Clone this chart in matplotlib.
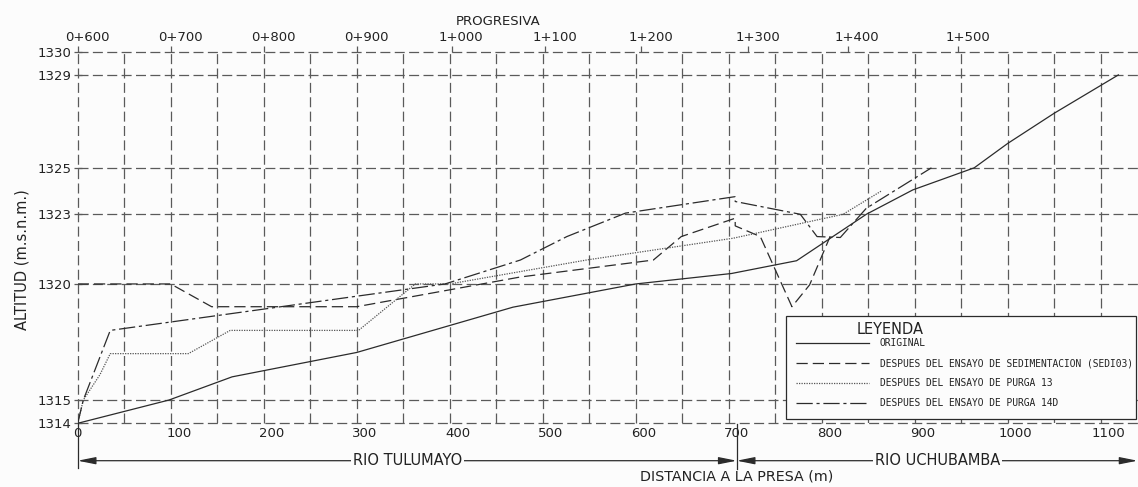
import numpy as np
import matplotlib
matplotlib.use("Agg")
import matplotlib.pyplot as plt
from matplotlib.transforms import ScaledTranslation, blended_transform_factory
from matplotlib.patches import Rectangle
from matplotlib.lines import Line2D

# ---------------- data ----------------
dist_ticks = [0, 100, 200, 300, 400, 500, 600, 700, 800, 900, 1000, 1100]
alt_ticks = [1314, 1315, 1320, 1323, 1325, 1329, 1330]
prog_labels = ["0+600", "0+700", "0+800", "0+900", "1+000", "1+100",
               "1+200", "1+300", "1+400", "1+500"]
prog_pos = [0, 100, 200, 300, 402, 503, 606, 721, 828, 947]

orig_d = [0, 98, 166, 300, 468, 600, 703, 773, 848, 898, 964, 1000, 1050, 1119]
orig_z = [1314.0, 1315.0, 1316.0, 1317.05, 1319.0, 1320.0, 1320.45, 1321.0,
          1323.0, 1324.05, 1325.0, 1326.05, 1327.35, 1329.0]

sed_d = [0, 100, 144, 300, 476, 619, 649, 707, 707, 734, 768, 787, 809]
sed_z = [1320.0, 1320.0, 1319.02, 1319.02, 1320.3, 1321.03, 1322.04, 1322.83,
         1322.5, 1322.04, 1319.02, 1319.96, 1322.04]

p13_d = [0, 6, 24, 35, 119, 164, 302, 363, 400, 547, 705, 823, 864]
p13_z = [1314.0, 1315.0, 1316.1, 1317.0, 1317.0, 1318.0, 1318.0, 1320.0,
         1320.0, 1321.03, 1321.97, 1323.0, 1324.0]

p14_d = [0, 6, 35, 395, 476, 526, 589, 707, 707, 777, 795, 820, 848, 918]
p14_z = [1314.0, 1315.0, 1318.0, 1320.0, 1321.03, 1322.04, 1323.05, 1323.76,
         1323.55, 1323.0, 1322.04, 1322.0, 1323.26, 1325.0]

legend_labels = ["ORIGINAL",
                 "DESPUES DEL ENSAYO DE SEDIMENTACION (SEDI03)",
                 "DESPUES DEL ENSAYO DE PURGA 13",
                 "DESPUES DEL ENSAYO DE PURGA 14D"]

# ---------------- style ----------------
plt.rcParams['font.family'] = ['DejaVu Sans']
BG = '#fcfcfc'
GRID = '#5a5a5a'
LINE = '#2b2b2b'
TXT = '#222222'
LW = 0.9
styles = [
    dict(color=LINE, lw=LW, linestyle='-'),
    dict(color=LINE, lw=LW, linestyle=(0, (9, 4))),
    dict(color='#555555', lw=LW, linestyle=(0, (1, 1))),
    dict(color=LINE, lw=LW, linestyle=(0, (13, 3, 2.5, 3))),
]

W, H = 1138, 487
fig = plt.figure(figsize=(W / 100, H / 100), dpi=100, facecolor=BG)
x0, ybot, ytop = 77.7, 423.3, 51.7
ax = fig.add_axes([x0 / W, 1 - ybot / H, 1 - x0 / W, (ybot - ytop) / H])
ax.set_facecolor(BG)
PXM = 0.93  # pixels per metre
xmax = (W - x0) / PXM
ax.set_xlim(0, xmax)
ax.set_ylim(1314, 1330)
for s in ax.spines.values():
    s.set_visible(False)

ax.set_xticks(dist_ticks)
ax.set_xticks(np.arange(50, xmax, 100), minor=True)
ax.set_xticklabels([str(v) for v in dist_ticks])
ax.set_yticks(alt_ticks)
ax.set_yticklabels([str(v) for v in alt_ticks])
gls = (0, (8, 3.5))
ax.grid(True, which='both', axis='x', color=GRID, lw=LW, linestyle=gls)
ax.grid(True, which='major', axis='y', color=GRID, lw=LW, linestyle=gls)
for gl in ax.get_xgridlines() + ax.get_ygridlines():
    gl.set_clip_on(False)
ax.tick_params(axis='x', which='both', length=0, pad=3, labelsize=9.5,
               labelcolor=TXT)
ax.tick_params(axis='y', direction='inout', length=6, pad=1.5, labelsize=9.5,
               labelcolor=TXT, color=GRID, width=LW)
off = ScaledTranslation(8 / 100, 0, fig.dpi_scale_trans)
for lbl in ax.get_xticklabels()[1:]:
    lbl.set_transform(lbl.get_transform() + off)

# top progresiva axis
axt = ax.twiny()
axt.set_xlim(ax.get_xlim())
axt.patch.set_visible(False)
for s in axt.spines.values():
    s.set_visible(False)
axt.set_xticks(prog_pos)
axt.set_xticklabels(prog_labels)
axt.tick_params(axis='x', direction='out', length=4, width=LW, color=GRID,
                pad=1.5, labelsize=9.5, labelcolor=TXT)
offt = ScaledTranslation(9.5 / 100, 0, fig.dpi_scale_trans)
for lbl in axt.get_xticklabels():
    lbl.set_transform(lbl.get_transform() + offt)

# profiles
series = [(orig_d, orig_z), (sed_d, sed_z), (p13_d, p13_z), (p14_d, p14_z)]
for (d, z), st in zip(series, styles):
    ax.plot(d, z, zorder=3, solid_joinstyle='miter', **st)

# titles
fig.text(498 / W, 1 - 21.7 / H, "PROGRESIVA", ha='center', va='center',
         fontsize=9.5, color=TXT)
fig.text(22 / W, 1 - 260 / H, "ALTITUD (m.s.n.m.)", rotation=90,
         ha='center', va='center', fontsize=10.5, color=TXT)

# bottom river annotations
tr = blended_transform_factory(ax.transData, ax.transAxes)
def ay(py):
    return (ybot - py) / (ybot - ytop)
marker_x = 700 + 8 / PXM
ya = ay(460.7)
ax.plot([0, 0], [0, ay(468)], transform=tr, clip_on=False, color=LINE, lw=LW)
ax.plot([marker_x, marker_x], [ay(424), ay(469)], transform=tr,
        clip_on=False, color=LINE, lw=LW)
aprops = dict(arrowstyle='<|-|>,head_length=0.9,head_width=0.18', color=LINE,
              lw=LW, shrinkA=0, shrinkB=0, mutation_scale=12)
ax.annotate('', xy=(0, ya), xytext=(marker_x, ya), xycoords=tr,
            textcoords=tr, arrowprops=aprops, annotation_clip=False)
ax.annotate('', xy=(marker_x, ya), xytext=(xmax - 0.5, ya), xycoords=tr,
            textcoords=tr, arrowprops=aprops, annotation_clip=False)
bb = dict(facecolor=BG, edgecolor='none', pad=1.5)
ax.text(marker_x / 2, ya, "RIO TULUMAYO", transform=tr, ha='center',
        va='center', fontsize=10.5, color=TXT, bbox=bb, zorder=5,
        clip_on=False)
ax.text((marker_x + xmax) / 2, ya, "RIO UCHUBAMBA", transform=tr,
        ha='center', va='center', fontsize=10.5, color=TXT, bbox=bb,
        zorder=5, clip_on=False)
ax.text(marker_x, ay(477), "DISTANCIA A LA PRESA (m)", transform=tr,
        ha='center', va='center', fontsize=10.3, color=TXT, clip_on=False)

# legend box
lx0, lx1, ly0, ly1 = 786, 1136, 316, 419
fig.add_artist(Rectangle((lx0 / W, 1 - ly1 / H), (lx1 - lx0) / W,
                         (ly1 - ly0) / H, transform=fig.transFigure,
                         facecolor=BG, edgecolor=LINE, lw=LW, zorder=5))
fig.text(890 / W, 1 - 329 / H, "LEYENDA", ha='center', va='center',
         fontsize=10.5, color=TXT, zorder=6)
rows = [343, 363, 383, 403]
for yy, lab, st in zip(rows, legend_labels, styles):
    fig.add_artist(Line2D([796 / W, 869 / W], [1 - yy / H, 1 - yy / H],
                          transform=fig.transFigure, zorder=6, **st))
    fig.text(880 / W, 1 - yy / H, lab, ha='left', va='center',
             fontsize=6.9, family='DejaVu Sans Mono', color=TXT, zorder=6)

fig.savefig("out.png", dpi=100, facecolor=BG)
